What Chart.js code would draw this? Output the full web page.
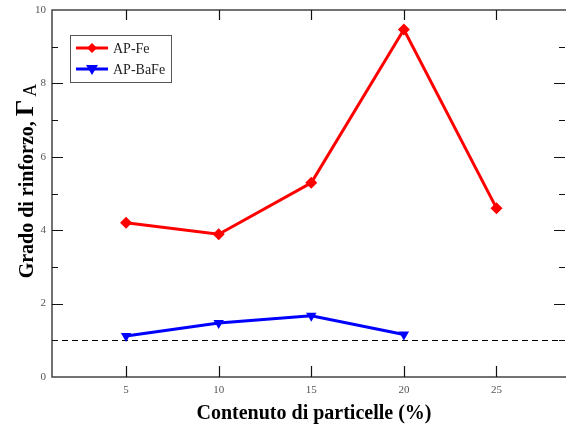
<!DOCTYPE html>
<html lang="it">
<head>
<meta charset="UTF-8">
<title>Grado di rinforzo</title>
<style>
  html, body { margin: 0; padding: 0; background: #fff; overflow: hidden; }
  #wrap { width: 566px; height: 430px; overflow: hidden; }
</style>
<script src="https://cdn.jsdelivr.net/npm/chart.js"></script>
</head>
<body>
<!-- the frame runs off the right edge, so the canvas is a little wider than the box -->
<div id="wrap"><canvas id="chart" width="571" height="430"></canvas></div>
<script>
// contenuto di particelle (%)
const contenuto = [5, 10, 15, 20, 25];
const apFe = [4.20, 3.89, 5.29, 9.47, 4.60];
const apBaFe = [1.12, 1.47, 1.67, 1.16];
const yTicks = [0, 2, 4, 6, 8, 10];
const yMinor = [1, 3, 5, 7, 9];
const riferimento = 1;   // linea tratteggiata

const SERIF = '"Liberation Serif", "Times New Roman", serif';

// bordo, tacche interne, linea di riferimento, legenda e titoli
const frame = {
  id: 'frame',
  beforeDatasetsDraw(chart) {
    const { ctx, chartArea: a, scales: { x, y } } = chart;
    ctx.save();
    ctx.strokeStyle = '#000';
    ctx.lineWidth = 1;
    ctx.setLineDash([6, 4]);
    const yr = Math.round(y.getPixelForValue(riferimento)) + 0.5;
    ctx.beginPath(); ctx.moveTo(a.left, yr); ctx.lineTo(a.right, yr); ctx.stroke();
    ctx.restore();
  },
  afterDatasetsDraw(chart) {
    const { ctx, chartArea: a, scales: { x, y } } = chart;
    ctx.save();
    ctx.strokeStyle = '#444';
    ctx.lineWidth = 1.5;
    ctx.beginPath();
    ctx.moveTo(a.right + 2, a.top); ctx.lineTo(a.left, a.top);
    ctx.lineTo(a.left, a.bottom); ctx.lineTo(a.right + 2, a.bottom);
    ctx.stroke();

    ctx.strokeStyle = '#111';
    ctx.lineWidth = 1.2;
    ctx.beginPath();
    contenuto.forEach(v => {
      const px = Math.round(x.getPixelForValue(v)) + 0.5;
      ctx.moveTo(px, a.bottom); ctx.lineTo(px, a.bottom - 11);
      ctx.moveTo(px, a.top); ctx.lineTo(px, a.top + 10);
    });
    yTicks.slice(1, -1).forEach(v => {
      const py = Math.round(y.getPixelForValue(v)) + 0.5;
      ctx.moveTo(a.left, py); ctx.lineTo(a.left + 11, py);
      ctx.moveTo(a.right, py); ctx.lineTo(a.right - 11, py);
    });
    yMinor.forEach(v => {
      const py = Math.round(y.getPixelForValue(v)) + 0.5;
      ctx.moveTo(a.left, py); ctx.lineTo(a.left + 6, py);
      ctx.moveTo(a.right, py); ctx.lineTo(a.right - 6, py);
    });
    ctx.stroke();

    // legenda
    ctx.fillStyle = '#fff';
    ctx.fillRect(70.5, 35.5, 101, 47);
    ctx.strokeStyle = '#555';
    ctx.lineWidth = 1;
    ctx.strokeRect(70.5, 35.5, 101, 47);
    chart.data.datasets.forEach((ds, i) => {
      const ly = 48 + i * 21;
      ctx.strokeStyle = ds.borderColor;
      ctx.lineWidth = 3;
      ctx.beginPath(); ctx.moveTo(76, ly); ctx.lineTo(108, ly); ctx.stroke();
      ctx.fillStyle = ds.borderColor;
      ctx.beginPath();
      if (i === 0) {
        ctx.moveTo(92, ly - 5); ctx.lineTo(97, ly); ctx.lineTo(92, ly + 5); ctx.lineTo(87, ly);
      } else {
        ctx.moveTo(86, ly - 4); ctx.lineTo(98, ly - 4); ctx.lineTo(92, ly + 6);
      }
      ctx.closePath(); ctx.fill();
      ctx.fillStyle = '#222';
      ctx.font = '14px ' + SERIF;
      ctx.textBaseline = 'middle';
      ctx.textAlign = 'left';
      ctx.fillText(ds.label, 113, ly + 1);
    });

    // titolo asse x
    ctx.fillStyle = '#000';
    ctx.font = 'bold 20px ' + SERIF;
    ctx.textAlign = 'center';
    ctx.textBaseline = 'alphabetic';
    ctx.fillText('Contenuto di particelle (%)', 314, 419);

    // titolo asse y con pedice
    ctx.translate(33, 181);
    ctx.rotate(-Math.PI / 2);
    const main = 'Grado di rinforzo, ';
    ctx.font = 'bold 20px ' + SERIF;
    const w1 = ctx.measureText(main).width;
    ctx.font = 'bold 26px ' + SERIF;
    const w2 = ctx.measureText('Γ').width;
    ctx.font = '18px ' + SERIF;
    const w3 = ctx.measureText('A').width;
    let sx = -(w1 + w2 + 3 + w3) / 2;
    ctx.textAlign = 'left';
    ctx.font = 'bold 20px ' + SERIF;
    ctx.fillText(main, sx, 0);
    sx += w1;
    ctx.font = 'bold 26px ' + SERIF;
    ctx.fillText('Γ', sx, 0);
    sx += w2 + 3;
    ctx.font = '18px ' + SERIF;
    ctx.fillText('A', sx, 3);
    ctx.restore();
  }
};

new Chart(document.getElementById('chart'), {
  type: 'line',
  data: {
    datasets: [
      {
        label: 'AP-Fe',
        data: contenuto.map((c, i) => ({ x: c, y: apFe[i] })),
        borderColor: '#ff0000',
        backgroundColor: '#ff0000',
        borderWidth: 3,
        pointStyle: 'rectRot',
        pointRadius: 6,
        pointBorderWidth: 0
      },
      {
        label: 'AP-BaFe',
        data: apBaFe.map((v, i) => ({ x: contenuto[i], y: v })),
        borderColor: '#0000ff',
        backgroundColor: '#0000ff',
        borderWidth: 3,
        pointStyle: 'triangle',
        rotation: 180,
        pointRadius: 6,
        pointBorderWidth: 0
      }
    ]
  },
  options: {
    responsive: false,
    animation: false,
    layout: { padding: { top: 10, right: 0, left: 0, bottom: 0 } },
    plugins: { legend: { display: false }, tooltip: { enabled: false } },
    scales: {
      x: {
        type: 'linear',
        min: 1,
        max: 28.7,
        afterBuildTicks: s => { s.ticks = contenuto.map(v => ({ value: v })); },
        afterFit: s => { s.height = 53; s.paddingLeft = 0; s.paddingRight = 0; },
        grid: { display: false, drawTicks: false },
        border: { display: false },
        ticks: { padding: 7, color: '#555', font: { family: SERIF, size: 11 }, maxRotation: 0 }
      },
      y: {
        min: 0,
        max: 10,
        afterBuildTicks: s => { s.ticks = yTicks.map(v => ({ value: v })); },
        afterFit: s => { s.width = 52; s.paddingTop = 0; s.paddingBottom = 0; },
        grid: { display: false, drawTicks: false },
        border: { display: false },
        ticks: { padding: 6, color: '#555', font: { family: SERIF, size: 11 } }
      }
    }
  },
  plugins: [frame]
});
</script>
</body>
</html>
